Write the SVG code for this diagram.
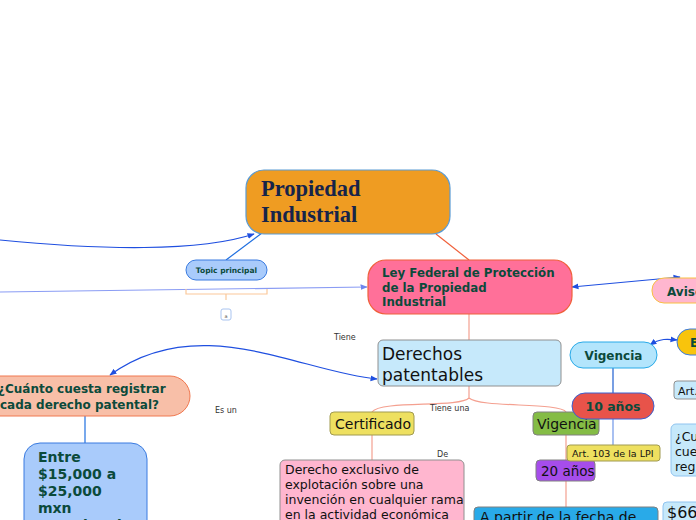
<svg xmlns="http://www.w3.org/2000/svg" width="696" height="520" viewBox="0 0 696 520">
<style>
.b{font-family:"DejaVu Sans","Liberation Sans",sans-serif;font-weight:bold;fill:#0B4A3B}
.n{font-family:"DejaVu Sans","Liberation Sans",sans-serif;fill:#111}
.l{font-family:"DejaVu Sans","Liberation Sans",sans-serif;font-size:8px;fill:#333}
.c{fill:none;stroke-width:1.2}
</style>
<defs>
<marker id="ab" viewBox="0 0 10 10" refX="9" refY="5" markerWidth="6" markerHeight="6" orient="auto-start-reverse"><path d="M0,1 L10,5 L0,9 z" fill="#1F4FE0"/></marker>
<marker id="al" viewBox="0 0 10 10" refX="9" refY="5" markerWidth="6" markerHeight="6" orient="auto-start-reverse"><path d="M0,1 L10,5 L0,9 z" fill="#6F86EE"/></marker>
</defs>
<rect width="696" height="520" fill="#fff"/>
<g id="connectors">
<path class="c" d="M0,240 C100,250 200,252 254,234" stroke="#1F4FE0" marker-end="url(#ab)"/>
<path class="c" d="M0,292 L367,287" stroke="#8A9CF4" marker-end="url(#al)"/>
<path class="c" d="M226,260 L262,233" stroke="#1F6FE0"/>
<path class="c" d="M436,234 L469,260" stroke="#F0603A"/>
<path class="c" d="M572,287 L680,277" stroke="#1F4FE0" marker-start="url(#ab)" marker-end="url(#ab)"/>
<path class="c" d="M469,314 L469,340" stroke="#F4A090"/>
<path class="c" d="M377,379 C300,372 200,310 110,375" stroke="#1F4FE0" marker-start="url(#ab)" marker-end="url(#ab)"/>
<path class="c" d="M85,416 L85,443" stroke="#1F6FE0"/>
<path class="c" d="M469,386 L469,398 C460,408 380,400 372,412 M469,398 C480,408 560,402 566,412" stroke="#F4A090"/>
<path class="c" d="M372,435 L372,460" stroke="#F4A090"/>
<path class="c" d="M566,435 L566,460 M566,481 L566,507" stroke="#F4A090"/>
<path class="c" d="M613,368 L613,393" stroke="#1F5FD0"/>
<path class="c" d="M613,419 L613,445" stroke="#6F96E8"/>
<path class="c" d="M650,345 C660,338 668,339 677,340" stroke="#1F4FE0" marker-start="url(#ab)" marker-end="url(#ab)"/>
<path d="M186,289 L186,294 L267,294 L267,289 M226,294 L226,300" fill="none" stroke="#FBC89A" stroke-width="1.2"/>
<text class="l" x="334" y="340">Tiene</text>
<text class="l" x="215" y="413">Es un</text>
<text class="l" x="430" y="411">Tiene una</text>
<text class="l" x="437" y="457">De</text>
</g>
<g id="main">
<rect x="246" y="170" width="204" height="64" rx="18" fill="#EF9C22" stroke="#5A9BD4" stroke-width="1.2"/>
<text x="261" y="196" font-family="Liberation Serif,serif" font-weight="bold" font-size="22.5" fill="#16244A">Propiedad</text>
<text x="261" y="222" font-family="Liberation Serif,serif" font-weight="bold" font-size="22.5" fill="#16244A">Industrial</text>
</g>
<g id="topic">
<rect x="186" y="260" width="81" height="20" rx="10" fill="#A9CBFB" stroke="#3A7BE0"/>
<text class="b" x="226.5" y="273" font-size="7.5" text-anchor="middle">Topic principal</text>
</g>
<g id="small">
<rect x="221" y="309" width="10" height="11" rx="2" fill="#fff" stroke="#A9C4F0"/>
<text x="226" y="318" font-family="DejaVu Sans,sans-serif" font-size="5" fill="#555" text-anchor="middle">a</text>
</g>
<g id="ley">
<rect x="368" y="260" width="204" height="54" rx="18" fill="#FF7099" stroke="#F0603A" stroke-width="1.2"/>
<text class="b" x="382" y="277" font-size="11.8">Ley Federal de Protección</text>
<text class="b" x="382" y="292" font-size="11.8">de la Propiedad</text>
<text class="b" x="382" y="306" font-size="11.8">Industrial</text>
</g>
<g id="aviso">
<rect x="652" y="278" width="80" height="25" rx="12" fill="#FFB6CF" stroke="#F8C040"/>
<text class="b" x="667" y="296" font-size="12">Aviso</text>
</g>
<g id="derechos">
<rect x="378" y="340" width="183" height="46" rx="5" fill="#C6E9FB" stroke="#909090"/>
<text class="n" x="382" y="360" font-size="17">Derechos</text>
<text class="n" x="382" y="381" font-size="17">patentables</text>
</g>
<g id="cuanto">
<rect x="-20" y="376" width="210" height="40" rx="20" fill="#F8BFA8" stroke="#F07850"/>
<text class="b" x="-2" y="393" font-size="12">¿Cuánto cuesta registrar</text>
<text class="b" x="0" y="409" font-size="12">cada derecho patental?</text>
</g>
<g id="entre">
<rect x="24" y="443" width="123" height="100" rx="16" fill="#A9CBFB" stroke="#3A7BE0"/>
<text class="b" x="38" y="462" font-size="14">Entre</text>
<text class="b" x="38" y="479" font-size="14">$15,000 a</text>
<text class="b" x="38" y="496" font-size="14">$25,000</text>
<text class="b" x="38" y="513" font-size="14">mxn</text>
<text class="b" x="38" y="530" font-size="14">aproximad</text>
</g>
<g id="certificado">
<rect x="330" y="412" width="84" height="23" rx="4" fill="#EEE060" stroke="#A09A50"/>
<text class="n" x="335" y="429" font-size="14">Certificado</text>
</g>
<g id="exclusivo">
<rect x="280" y="460" width="184" height="70" rx="5" fill="#FFB6CF" stroke="#909090"/>
<text class="n" x="285" y="474" font-size="12.5">Derecho exclusivo de</text>
<text class="n" x="285" y="489" font-size="12.5">explotación sobre una</text>
<text class="n" x="285" y="504" font-size="12.5">invención en cualquier rama</text>
<text class="n" x="285" y="519" font-size="12.5">en la actividad económica</text>
</g>
<g id="vigencia2">
<rect x="533" y="412" width="66" height="23" rx="4" fill="#84BC45" stroke="#808080"/>
<text class="n" x="537" y="429" font-size="14">Vigencia</text>
</g>
<g id="anos20">
<rect x="536" y="460" width="59" height="21" rx="4" fill="#A64DEB" stroke="#808080"/>
<text class="n" x="541" y="476" font-size="13.5">20 años</text>
</g>
<g id="apartir">
<rect x="474" y="507" width="184" height="30" rx="4" fill="#29AAE8" stroke="#808080"/>
<text class="n" x="480" y="522" font-size="14">A partir de la fecha de</text>
</g>
<g id="vigencia1">
<rect x="570" y="342" width="87" height="26" rx="13" fill="#B3E5FC" stroke="#29AAE8"/>
<text class="b" x="613.5" y="359.5" font-size="12" text-anchor="middle">Vigencia</text>
</g>
<g id="anos10">
<rect x="572" y="393" width="82" height="26" rx="13" fill="#E8534A" stroke="#3A60D0"/>
<text class="b" x="613" y="411" font-size="12.5" text-anchor="middle">10 años</text>
</g>
<g id="art103">
<rect x="567" y="445" width="93" height="16" rx="3" fill="#EEE060" stroke="#A09A50"/>
<text class="n" x="572" y="457" font-size="9.5">Art. 103 de la LPI</text>
</g>
<g id="enode">
<rect x="677" y="329" width="50" height="26" rx="13" fill="#F8C40C" stroke="#3A7BE0"/>
<text class="b" x="690" y="347" font-size="12">E</text>
</g>
<g id="art">
<rect x="674" y="381" width="40" height="18" rx="3" fill="#C6E9FB" stroke="#909090"/>
<text class="n" x="678" y="395" font-size="11">Art.</text>
</g>
<g id="cu">
<rect x="671" y="424" width="50" height="52" rx="5" fill="#C6E9FB" stroke="#90C4F0"/>
<text class="n" x="675" y="441" font-size="12.5">¿Cu</text>
<text class="n" x="675" y="456" font-size="12.5">cue</text>
<text class="n" x="675" y="471" font-size="12.5">reg</text>
</g>
<g id="s66">
<rect x="663" y="502" width="50" height="30" rx="4" fill="#C6E9FB" stroke="#90C4F0"/>
<text class="n" x="667" y="518" font-size="16">$66</text>
</g>
</svg>
